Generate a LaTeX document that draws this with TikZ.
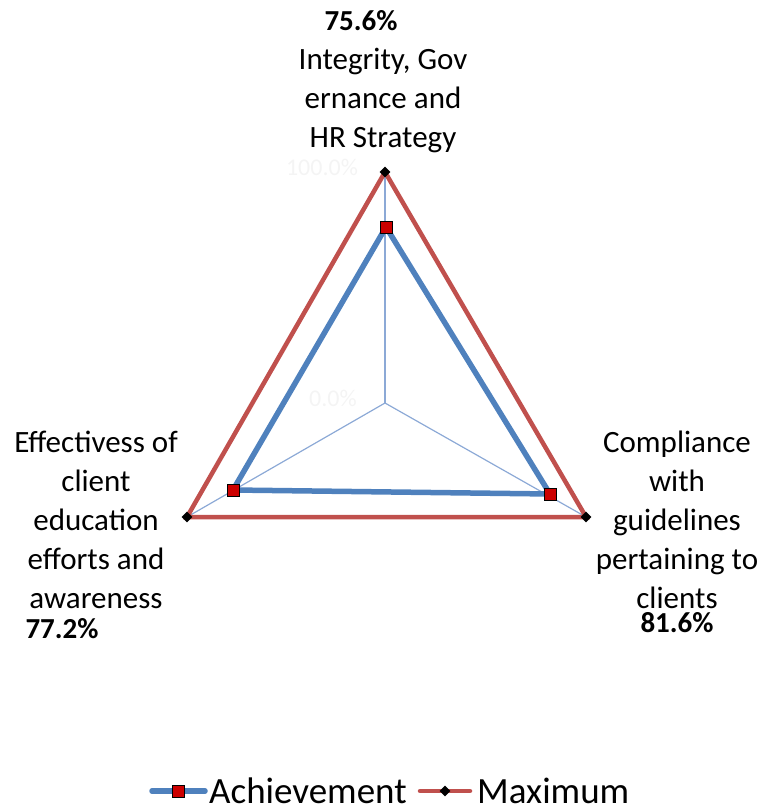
\documentclass[tikz,border=0pt]{standalone}
\usepackage{fontspec}
\setmainfont{Carlito}
\usetikzlibrary{shapes.geometric}
\definecolor{serblue}{HTML}{4F81BD}
\definecolor{serred}{HTML}{C0504D}
\definecolor{gridblue}{HTML}{8CA9D6}
\definecolor{faint}{HTML}{F4F4F4}
\tikzset{
  lbl/.style={align=center,font=\fontsize{31}{39}\selectfont,inner sep=0pt},
  pct/.style={font=\fontsize{29}{30}\selectfont\bfseries,inner sep=0pt},
  gridln/.style={draw=gridblue,line width=1.2pt},
  maxln/.style={draw=serred,line width=4.5pt,line join=miter},
  achln/.style={draw=serblue,line width=5.5pt,line join=round},
  sqmark/.style={rectangle,fill=red!80!black,draw=black,line width=1pt,minimum size=12pt,inner sep=0pt},
  dmmark/.style={diamond,fill=black,minimum size=11pt,inner sep=0pt},
  legtxt/.style={font=\fontsize{37}{40}\selectfont,inner sep=0pt,anchor=base west}
}
\begin{document}
\begin{tikzpicture}[x=1pt,y=-1pt]
\useasboundingbox (0,0) rectangle (765,805);
% axes
\coordinate (c) at (385,403);
\coordinate (t) at (385,172);
\coordinate (l) at (187,517);
\coordinate (r) at (586,517);
\coordinate (at) at (386,227);
\coordinate (al) at (233,490);
\coordinate (ar) at (550,494);
\draw[gridln] (c) -- (t);
\draw[gridln] (c) -- (l);
\draw[gridln] (c) -- (r);
\node[font=\fontsize{24}{26}\selectfont,text=faint] (p100) at (322,167) {100.0\%};
\node[font=\fontsize{24}{26}\selectfont,text=faint] (p0) at (333,398) {0.0\%};
\draw[maxln] (t) -- (r) -- (l) -- cycle;
\draw[achln] (at) -- (ar) -- (al) -- cycle;
\node[dmmark] (mt) at (t) {};
\node[dmmark] (ml) at (l) {};
\node[dmmark] (mr) at (r) {};
\node[sqmark] (st) at (at) {};
\node[sqmark] (sl) at (al) {};
\node[sqmark] (sr) at (ar) {};
% labels
\node[pct] (v1) at (361,21) {75.6\%};
\node[lbl,anchor=north] (l1) at (383,48) {Integrity, Gov\\ernance and\\HR Strategy};
\node[lbl,anchor=north] (l2) at (96,431) {Effectivess of\\client\\education\\efforts and\\awareness};
\node[pct] (v2) at (62,629) {77.2\%};
\node[lbl,anchor=north] (l3) at (677,431) {Compliance\\with\\guidelines\\pertaining to\\clients};
\node[pct] (v3) at (677,623) {81.6\%};
% legend
\coordinate (b1) at (152,791);
\coordinate (b2) at (205,791);
\coordinate (r1) at (420,791);
\coordinate (r2) at (470,791);
\draw[draw=serblue,line width=5.5pt,line cap=round] (b1) -- (b2);
\node[sqmark] (lgs) at (178,791) {};
\node[legtxt] (lga) at (209,803) {Achievement};
\draw[draw=serred,line width=4.5pt,line cap=round] (r1) -- (r2);
\node[dmmark] (lgd) at (445,791) {};
\node[legtxt] (lgm) at (477,803) {Maximum};
\end{tikzpicture}
\end{document}
